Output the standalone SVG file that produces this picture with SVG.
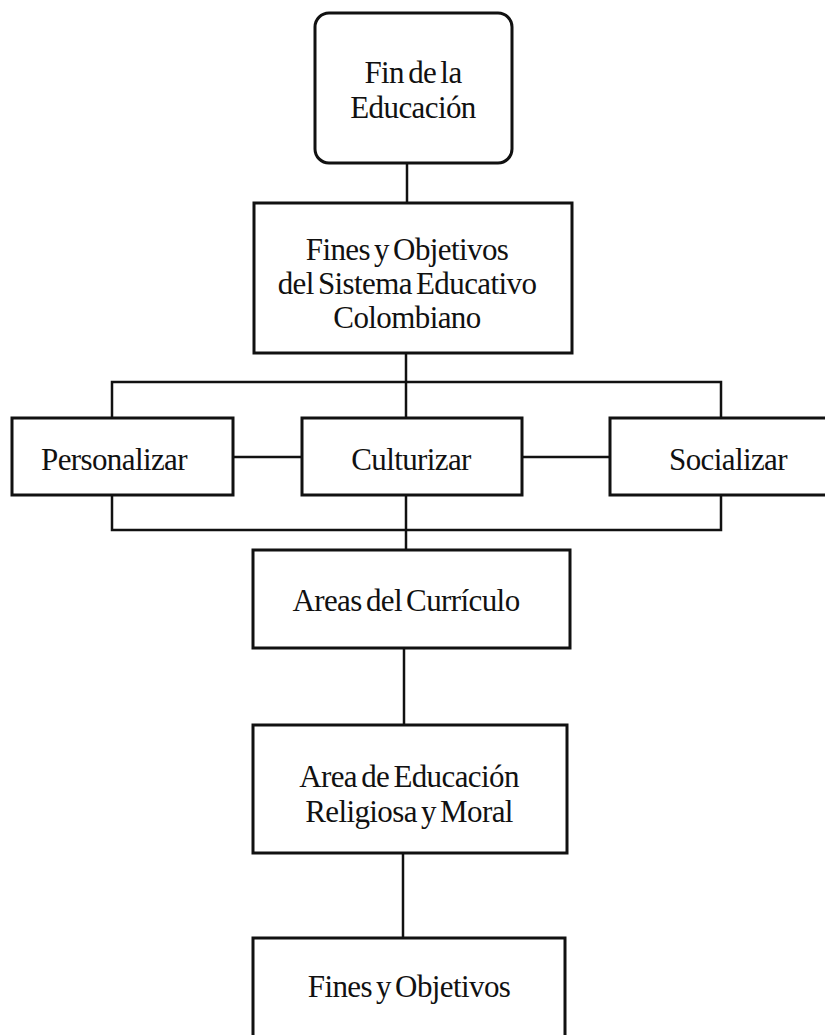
<svg xmlns="http://www.w3.org/2000/svg" width="825" height="1035" viewBox="0 0 825 1035">
<style>
.box{fill:#fff;stroke:#111;stroke-width:3}
.ln{fill:none;stroke:#111;stroke-width:2.5}
text{font-family:"Liberation Serif","Times New Roman",serif;font-size:31px;letter-spacing:-0.6px;word-spacing:-3px;fill:#111;text-anchor:middle}
</style>
<rect width="825" height="1035" fill="#fff"/>
<g id="connectors">
<line class="ln" x1="407" y1="163" x2="407" y2="203"/>
<line class="ln" x1="406" y1="353" x2="406" y2="550"/>
<polyline class="ln" points="112,418 112,382 721,382 721,418"/>
<polyline class="ln" points="112,495 112,530 721,530 721,495"/>
<line class="ln" x1="233" y1="457" x2="302" y2="457"/>
<line class="ln" x1="522" y1="457" x2="610" y2="457"/>
<line class="ln" x1="404" y1="648" x2="404" y2="725"/>
<line class="ln" x1="403" y1="853" x2="403" y2="938"/>
</g>
<g id="fin-educacion">
<rect class="box" x="315" y="13" width="197" height="150" rx="14"/>
<text x="413" y="83">Fin de la</text>
<text x="413" y="118">Educación</text>
</g>
<g id="fines-sistema">
<rect class="box" x="254" y="203" width="318" height="150"/>
<text x="407" y="260">Fines y Objetivos</text>
<text x="407" y="294">del Sistema Educativo</text>
<text x="407" y="328">Colombiano</text>
</g>
<g id="personalizar">
<rect class="box" x="12" y="418" width="221" height="77"/>
<text x="114" y="470">Personalizar</text>
</g>
<g id="culturizar">
<rect class="box" x="302" y="418" width="220" height="77"/>
<text x="411" y="470">Culturizar</text>
</g>
<g id="socializar">
<rect class="box" x="610" y="418" width="230" height="77"/>
<text x="728" y="470">Socializar</text>
</g>
<g id="areas-curriculo">
<rect class="box" x="253" y="550" width="317" height="98"/>
<text x="406" y="611">Areas del Currículo</text>
</g>
<g id="area-religiosa">
<rect class="box" x="253" y="725" width="314" height="128"/>
<text x="409" y="787">Area de Educación</text>
<text x="409" y="822">Religiosa y Moral</text>
</g>
<g id="fines-objetivos">
<rect class="box" x="253" y="938" width="312" height="110"/>
<text x="409" y="997">Fines y Objetivos</text>
</g>
</svg>
